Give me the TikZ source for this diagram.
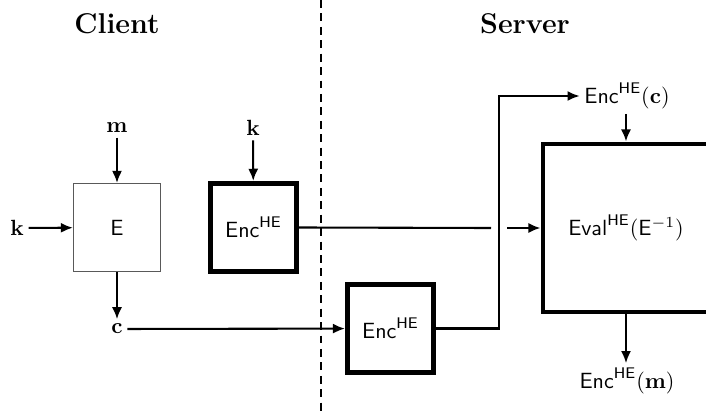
\documentclass[tikz,border=0pt]{standalone}
\usepackage{amsmath}
\usetikzlibrary{arrows.meta}
\begin{document}
\begin{tikzpicture}[x=0.4545pt,y=-0.4545pt,
  arr/.style={line width=0.95pt,-{Latex[length=5.5pt,width=4.6pt]}},
  ln/.style={line width=0.95pt},
  thinbox/.style={draw=black!65,line width=0.5pt,minimum width=39.6pt,minimum height=40pt,inner sep=0pt},
  heavybox/.style={draw,line width=2.2pt,minimum width=39.2pt,minimum height=40.2pt,inner sep=0pt},
  evalbox/.style={draw,line width=2.2pt,minimum width=75.5pt,minimum height=76.4pt,inner sep=0pt},
  head/.style={font=\fontsize{13}{15}\selectfont\bfseries},
  lbl/.style={inner sep=2pt}]
\useasboundingbox (0,0) rectangle (706,411);
\clip (0,0) rectangle (706,411);
% headings
\node[head] (client) at (117,24) {Client};
\node[head] (server) at (525,24) {Server};
\coordinate (dtop) at (321,0);
\coordinate (dbot) at (321,411);
\draw[line width=0.9pt,dash pattern=on 3.6pt off 2.5pt] (dtop) -- (dbot);
% client side
\node[thinbox] (E) at (117,227.5) {$\mathsf{E}$};
\node[lbl] (m) at (117,128) {$\mathbf{m}$};
\node[lbl] (k1) at (17,228) {$\mathbf{k}$};
\node[lbl] (c) at (117,329) {$\mathbf{c}$};
\node[heavybox] (enc1) at (253.5,227.5) {$\mathsf{Enc}^{\mathsf{HE}}$};
\node[lbl] (k2) at (253,128) {$\mathbf{k}$};
% server side
\node[heavybox] (enc2) at (390.5,328.5) {$\mathsf{Enc}^{\mathsf{HE}}$};
\node[evalbox] (eval) at (626,228) {$\mathsf{Eval}^{\mathsf{HE}}(\mathsf{E}^{-1})$};
\node[lbl] (ec) at (627,96) {$\mathsf{Enc}^{\mathsf{HE}}(\mathbf{c})$};
\node[lbl] (em) at (627,381) {$\mathsf{Enc}^{\mathsf{HE}}(\mathbf{m})$};
\coordinate (turn) at (499,96);
\coordinate (gapl) at (491,228);
\coordinate (gapr) at (507,228);
% connectors
\draw[arr] (m) -- (E);
\draw[arr] (k1) -- (E);
\draw[arr] (E) -- (c);
\draw[arr] (k2) -- (enc1);
\draw[arr] (c) -- (enc2);
\draw[ln] (enc1.east) -- (gapl);
\draw[arr] (gapr) -- (eval.west);
\draw[arr] (enc2.east) -- (enc2.east -| turn) -- (turn) -- (ec.west);
\draw[arr] (ec.south -| eval.north) -- (eval.north);
\draw[arr] (eval.south) -- (em.north -| eval.south);
\end{tikzpicture}
\end{document}
